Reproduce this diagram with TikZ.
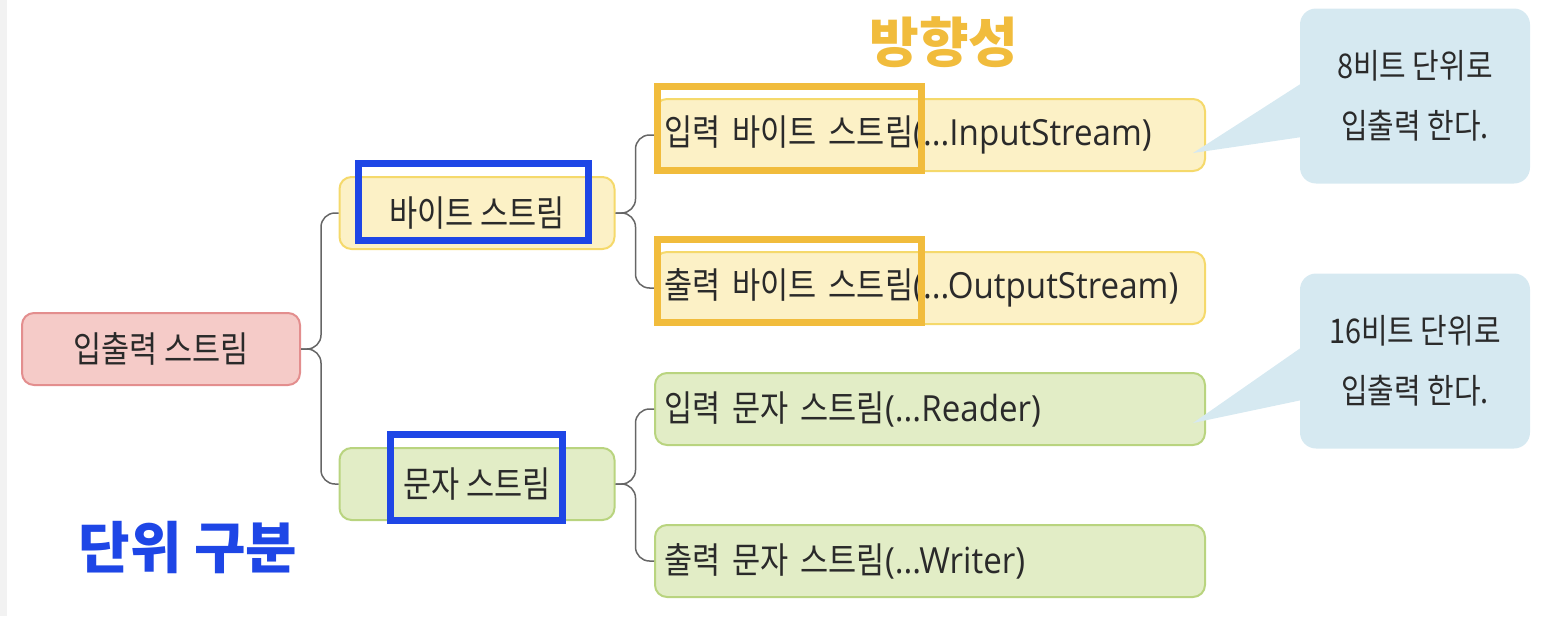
\documentclass[tikz,border=0pt]{standalone}
\usepackage{fontspec}
\setmainfont{Noto Sans CJK KR}[FakeStretch=0.85]
\newfontfamily\latinfont{Open Sans}[FakeStretch=0.92]
\newfontfamily\labelfont{Noto Sans CJK KR}
\definecolor{cyfill}{HTML}{FCF1C6}
\definecolor{cydraw}{HTML}{F5D96B}
\definecolor{cgfill}{HTML}{E2EDC6}
\definecolor{cgdraw}{HTML}{B9D47F}
\definecolor{crfill}{HTML}{F5CBC8}
\definecolor{crdraw}{HTML}{E38E8E}
\definecolor{cmark}{HTML}{1E46E6}
\definecolor{corange}{HTML}{F1BC3C}
\definecolor{ccall}{HTML}{D6E9F1}
\definecolor{ctext}{HTML}{2A2A2A}
\tikzset{
  stream/.style={rounded corners=12pt,line width=2pt,text=ctext,inner sep=0pt,
    minimum height=72pt,font=\fontsize{36}{40}\selectfont},
  ybox/.style={fill=cyfill,draw=cydraw},
  gbox/.style={fill=cgfill,draw=cgdraw},
  leaf/.style={stream,minimum width=550pt,text width=532pt,align=left},
  bubble/.style={fill=ccall,rounded corners=16pt,minimum width=230pt,minimum height=175pt,
    align=center,text=ctext,font=\fontsize{34}{60}\selectfont},
  branch/.style={draw=black!60,line width=1.5pt,rounded corners=14pt},
  blmark/.style={draw=cmark,line width=7pt},
  ormark/.style={draw=corange,line width=7pt}
}
\begin{document}
\begin{tikzpicture}[x=1pt,y=-1pt]
  \useasboundingbox (0,0) rectangle (1550,616);
  \fill[black!5] (0,0) rectangle (7,616);
  % tree
  \node[stream,fill=crfill,draw=crdraw,minimum width=278pt] (root) at (161,349) {입출력 스트림};
  \node[stream,ybox,minimum width=275pt] (byte) at (477,213) {바이트 스트림};
  \node[stream,gbox,minimum width=275pt] (char) at (477,484) {문자 스트림};
  \node[leaf,ybox] (ib) at (930,135) {입력 바이트 스트림{\latinfont(...InputStream)}};
  \node[leaf,ybox] (ob) at (930,288) {출력 바이트 스트림{\latinfont(...OutputStream)}};
  \node[leaf,gbox] (ic) at (930,409) {입력 문자 스트림{\latinfont(...Reader)}};
  \node[leaf,gbox] (oc) at (930,561) {출력 문자 스트림{\latinfont(...Writer)}};
  \draw[branch] (root.east) -- ++(20,0) |- (byte.west);
  \draw[branch] (root.east) -- ++(20,0) |- (char.west);
  \draw[branch] (byte.east) -- ++(20,0) |- (ib.west);
  \draw[branch] (byte.east) -- ++(20,0) |- (ob.west);
  \draw[branch] (char.east) -- ++(20,0) |- (ic.west);
  \draw[branch] (char.east) -- ++(20,0) |- (oc.west);
  % callouts
  \node[bubble] (note8) at (1415,96) {8비트 단위로\\입출력 한다.};
  \coordinate (tip8) at (1193,153);
  \fill[ccall] (1302,83) -- (tip8) -- (1302,137) -- cycle;
  \node[bubble] (note16) at (1415,361) {16비트 단위로\\입출력 한다.};
  \coordinate (tip16) at (1193,423);
  \fill[ccall] (1302,347) -- (tip16) -- (1302,400) -- cycle;
  % highlights
  \draw[blmark] (358,163) rectangle (588,240);
  \draw[blmark] (390,434) rectangle (562,520);
  \draw[ormark] (657,86) rectangle (921,170);
  \draw[ormark] (657,239) rectangle (921,322);
  \node[text=corange,font=\fontsize{54}{60}\selectfont\labelfont\bfseries] (dir) at (944,42) {방향성};
  \node[text=cmark,font=\fontsize{56}{62}\selectfont\labelfont\bfseries] (unit) at (188,548) {단위 구분};
\end{tikzpicture}
\end{document}
